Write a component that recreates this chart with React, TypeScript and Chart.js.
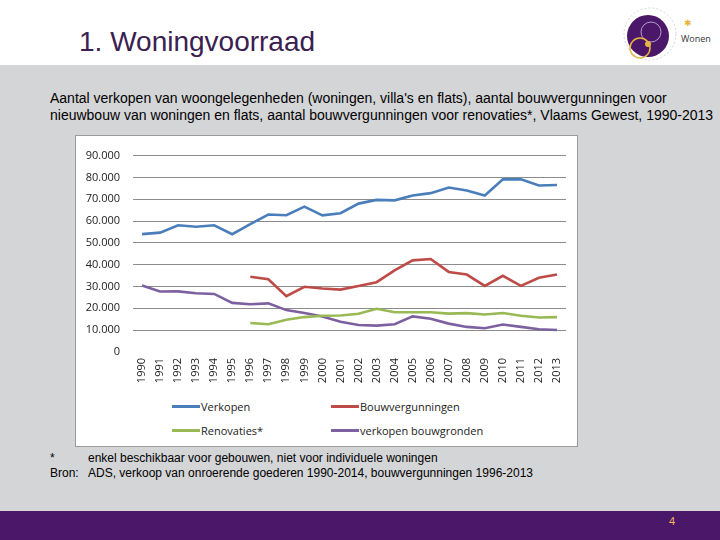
import React, { useEffect, useRef } from "react";
import { Chart, registerables } from "chart.js";

Chart.register(...registerables);

const years = ["1990","1991","1992","1993","1994","1995","1996","1997","1998","1999","2000","2001","2002","2003","2004","2005","2006","2007","2008","2009","2010","2011","2012","2013"];
const verkopen = [54000,54700,58100,57400,58100,54000,58600,63000,62700,66600,62600,63600,68000,69700,69500,71700,72800,75400,74000,71700,79100,79100,76300,76500];
const bouwvergunningen = [null,null,null,null,null,null,34500,33300,25600,29900,29100,28600,30200,32000,37400,42000,42600,36700,35500,30300,34900,30300,34000,35500];
const renovaties = [null,null,null,null,null,null,13300,12700,14800,16000,16600,16700,17500,19800,18200,18200,18200,17600,17800,17200,17900,16600,15800,16000];
const bouwgronden = [30500,27700,27800,26900,26600,22500,21900,22300,19200,17900,16300,13900,12400,12100,12700,16300,15200,13000,11500,10900,12600,11500,10400,10100];
const yTicks = [0,10000,20000,30000,40000,50000,60000,70000,80000,90000];

const seriesNames = ["Verkopen", "Bouwvergunningen", "Renovaties*", "verkopen bouwgronden"];
const seriesColors = ["#4a7ebb", "#be4b48", "#98b954", "#7d60a0"];

function fmt(v: number) {
  return v.toLocaleString("de-DE");
}

function ChartBox() {
  const ref = useRef<HTMLCanvasElement>(null);
  useEffect(() => {
    if (!ref.current) return;
    const data = [verkopen, bouwvergunningen, renovaties, bouwgronden];
    const chart = new Chart(ref.current, {
      type: "line",
      data: {
        labels: years,
        datasets: data.map((d, i) => ({
          label: seriesNames[i],
          data: d as any,
          borderColor: seriesColors[i],
          backgroundColor: seriesColors[i],
          borderWidth: 2.6,
          pointRadius: 0,
          tension: 0,
          spanGaps: false,
        })),
      },
      options: {
        animation: false,
        responsive: false,
        maintainAspectRatio: false,
        layout: { padding: { top: 13, right: 13, left: 0, bottom: 0 } },
        plugins: { legend: { display: false }, tooltip: { enabled: false } },
        scales: {
          x: {
            offset: true,
            grid: { display: false, drawTicks: false },
            border: { display: false },
            ticks: {
              minRotation: 90,
              maxRotation: 90,
              autoSkip: false,
              padding: 6,
              color: "#222",
              font: { family: "Open Sans", size: 11 },
            },
            afterFit: (s: any) => { s.height = 44; },
          },
          y: {
            min: 0,
            max: 90000,
            afterBuildTicks: (s: any) => { s.ticks = yTicks.map((v) => ({ value: v })); },
            grid: {
              color: (c: any) => (c.tick && c.tick.value === 0 ? "rgba(0,0,0,0)" : "#8c8c8c"),
              drawTicks: false,
              lineWidth: 1,
            },
            border: { display: false },
            ticks: {
              padding: 13,
              color: "#222",
              font: { family: "Open Sans", size: 11 },
              callback: (v: any) => fmt(Number(v)),
            },
            afterFit: (s: any) => { s.width = 57; },
          },
        },
      },
    });
    return () => chart.destroy();
  }, []);
  return <canvas ref={ref} width={503} height={260} style={{ position: "absolute", left: 0, top: 0, width: 503, height: 260 }} />;
}

function LegendItem({ name, color, left, top }: { name: string; color: string; left: number; top: number }) {
  return (
    <div style={{ position: "absolute", left, top, height: 16, display: "flex", alignItems: "center", whiteSpace: "nowrap" }}>
      <div style={{ width: 28, height: 3, background: color }} />
      <span style={{ marginLeft: 1, fontFamily: "Open Sans", fontSize: 11, color: "#222" }}>{name}</span>
    </div>
  );
}

export default function App() {
  useEffect(() => {
    document.body.style.margin = "0";
  }, []);
  const font = "'Liberation Sans', Arial, sans-serif";
  return (
    <div style={{ position: "fixed", left: 0, top: 0, width: 720, height: 540, background: "#ffffff", overflow: "hidden", fontFamily: font }}>
      <div style={{ position: "absolute", left: 79, top: 26, fontSize: 28, lineHeight: "32px", color: "#3a2150", whiteSpace: "nowrap" }}>
        1. Woningvoorraad
      </div>
      <svg style={{ position: "absolute", left: 618, top: 4 }} width={100} height={60}>
        <circle cx={32} cy={30} r={26} fill="none" stroke="#bbb" strokeWidth={0.6} strokeDasharray="2 2" />
        <circle cx={30} cy={32} r={21} fill="#4b1768" />
        <circle cx={33} cy={28} r={10} fill="none" stroke="#b79ad0" strokeWidth={1} />
        <circle cx={22} cy={44} r={10} fill="none" stroke="#e6b640" strokeWidth={1.5} />
        <circle cx={30} cy={40} r={3} fill="#e6b640" />
        <text x={63} y={38} fontSize={9} fontFamily="Open Sans" fill="#333">Wonen</text>
        <text x={66} y={22} fontSize={9} fill="#e6b640">✱</text>
      </svg>
      <div style={{ position: "absolute", left: 0, top: 65, width: 720, height: 446, background: "#d4d5d7" }} />
      <div style={{ position: "absolute", left: 50, top: 90, fontSize: 14, lineHeight: "17px", color: "#000", whiteSpace: "nowrap" }}>
        Aantal verkopen van woongelegenheden (woningen, villa's en flats), aantal bouwvergunningen voor<br />
        nieuwbouw van woningen en flats, aantal bouwvergunningen voor renovaties*, Vlaams Gewest, 1990-2013
      </div>
      <div style={{ position: "absolute", left: 75, top: 135, width: 501, height: 310, background: "#fff", border: "1px solid #9a9a9a" }}>
        <ChartBox />
        <LegendItem name={seriesNames[0]} color={seriesColors[0]} left={96} top={262} />
        <LegendItem name={seriesNames[1]} color={seriesColors[1]} left={255} top={262} />
        <LegendItem name={seriesNames[2]} color={seriesColors[2]} left={96} top={286} />
        <LegendItem name={seriesNames[3]} color={seriesColors[3]} left={255} top={286} />
      </div>
      <div style={{ position: "absolute", left: 50, top: 451, fontSize: 12, lineHeight: "15px", color: "#000", whiteSpace: "nowrap" }}>
        <div><span style={{ display: "inline-block", width: 38 }}>*</span>enkel beschikbaar voor gebouwen, niet voor individuele woningen</div>
        <div><span style={{ display: "inline-block", width: 38 }}>Bron:</span>ADS, verkoop van onroerende goederen 1990-2014, bouwvergunningen 1996-2013</div>
      </div>
      <div style={{ position: "absolute", left: 0, top: 511, width: 720, height: 29, background: "#4b1768" }} />
      <div style={{ position: "absolute", left: 669, top: 515, fontSize: 11, color: "#f0b860", fontFamily: font }}>4</div>
    </div>
  );
}
